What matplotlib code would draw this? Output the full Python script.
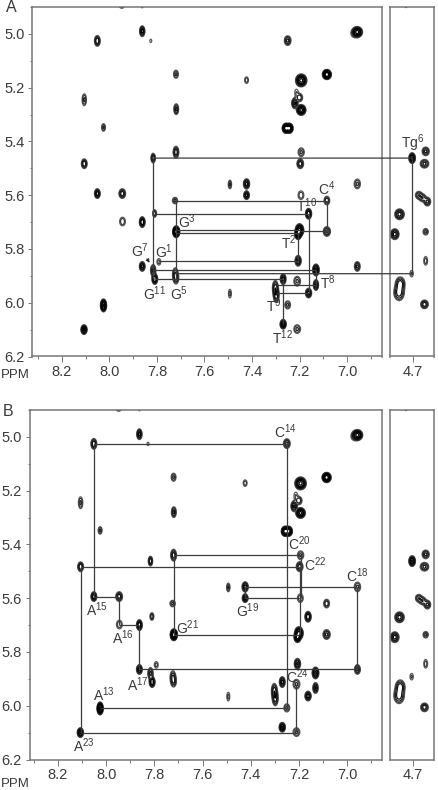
import numpy as np
import matplotlib
matplotlib.use('Agg')
import matplotlib.pyplot as plt
from matplotlib.patches import ConnectionPatch

plt.rcParams['font.family'] = ['Liberation Sans', 'DejaVu Sans']
plt.rcParams['mathtext.fontset'] = 'custom'
plt.rcParams['mathtext.rm'] = 'Liberation Sans'
plt.rcParams['mathtext.default'] = 'regular'

# cross peaks shared by both spectra: x ppm, y ppm, half width, half height, intensity
peak_x = [7.948, 7.862, 8.051, 7.862, 7.826, 7.25, 6.957, 6.97, 7.72, 7.423, 7.193, 7.085,
          8.106, 7.719, 7.213, 7.2, 7.22, 7.193, 8.025, 7.257, 7.243, 7.72, 7.816, 7.193,
          8.106, 7.197, 7.493, 7.423, 6.957, 8.051, 7.946, 7.423, 7.194, 7.085, 7.724,
          7.81, 7.162, 7.945, 7.862, 7.719, 7.2, 7.206, 7.085, 7.792, 7.206, 7.862,
          6.957, 7.816, 7.131, 7.723, 7.809, 7.72, 7.269, 7.21, 7.131, 7.302, 7.298,
          7.162, 7.493, 8.025, 7.25, 8.107, 7.269, 7.21]
peak_y = [4.896, 4.898, 5.026, 4.99, 5.026, 5.025, 4.993, 4.999, 5.15, 5.172, 5.173, 5.151,
          5.245, 5.28, 5.218, 5.237, 5.258, 5.283, 5.348, 5.351, 5.351, 5.44, 5.462, 5.44,
          5.483, 5.483, 5.56, 5.558, 5.558, 5.594, 5.594, 5.6, 5.6, 5.62, 5.62,
          5.668, 5.669, 5.698, 5.70, 5.736, 5.73, 5.745, 5.735, 5.848, 5.844, 5.865,
          5.865, 5.88, 5.878, 5.892, 5.912, 5.91, 5.912, 5.92, 5.934, 5.945, 5.972,
          5.964, 5.966, 6.01, 6.008, 6.10, 6.08, 6.098]
peak_w = [.012, .004, .012, .011, .004, .014, .022, .012, .010, .008, .024, .019,
          .009, .010, .007, .013, .013, .020, .008, .016, .016, .012, .009, .013,
          .012, .014, .007, .013, .013, .012, .014, .012, .012, .012, .011,
          .008, .013, .012, .012, .015, .018, .014, .015, .008, .013, .012,
          .012, .011, .014, .011, .012, .011, .012, .014, .011, .012, .012,
          .013, .006, .013, .012, .013, .013, .014]
peak_h = [.008, .005, .020, .020, .006, .018, .020, .012, .015, .012, .024, .019,
          .022, .020, .012, .015, .020, .020, .014, .019, .019, .022, .018, .016,
          .018, .018, .016, .019, .018, .018, .018, .016, .016, .016, .012,
          .014, .020, .016, .020, .022, .024, .020, .018, .012, .020, .018,
          .018, .022, .022, .022, .020, .020, .020, .018, .020, .028, .028,
          .018, .016, .024, .015, .018, .018, .016]
peak_amp = [5, 1.6, 7, 9, 1.6, 5, 25, 1.6, 3, 2.4, 25, 60,
            3, 5, 1.6, 4, 8, 25, 3, 60, 60, 6, 7, 3,
            7, 6, 3, 9, 3, 10, 6, 9, 2.5, 4, 3,
            4, 12, 2.5, 12, 60, 25, 25, 5, 2, 8, 9,
            5, 5, 14, 4, 12, 4, 9, 3, 8, 6, 6,
            9, 2, 40, 3, 14, 14, 3]

# peaks of the 4.7 ppm strip
strip_x = [4.73, 4.704, 4.647, 4.652, 4.676, 4.66, 4.64, 4.757, 4.777, 4.647, 4.647, 4.706, 4.759, 4.754, 4.652]
strip_y = [4.896, 5.462, 5.437, 5.483, 5.60, 5.61, 5.624, 5.671, 5.745, 5.736, 5.844, 5.892, 5.962, 5.93, 6.006]
strip_w = [.006, .014, .015, .018, .014, .014, .014, .020, .018, .011, .008, .007, .022, .020, .016]
strip_h = [.006, .020, .016, .016, .014, .014, .016, .020, .020, .012, .016, .012, .030, .026, .016]
strip_amp = [3, 14, 5, 5, 4, 4, 5, 9, 9, 3, 2.2, 1.8, 6, 6, 6]

xticks_main = [8.2, 8.0, 7.8, 7.6, 7.4, 7.2, 7.0]
xminor_main = [8.3, 8.1, 7.9, 7.7, 7.5, 7.3, 7.1, 6.9]
yticks_main = [5.0, 5.2, 5.4, 5.6, 5.8, 6.0, 6.2]
yminor_main = [4.9, 5.1, 5.3, 5.5, 5.7, 5.9, 6.1]

# walks of panel A: (x0, y0, x1, y1)
segments_a = [(7.816, 5.462, 7.816, 5.91), (7.72, 5.62, 7.085, 5.62), (7.085, 5.62, 7.085, 5.735),
              (7.72, 5.62, 7.72, 5.91), (7.81, 5.669, 7.162, 5.669), (7.162, 5.669, 7.162, 5.964),
              (7.72, 5.73, 7.2, 5.73), (7.72, 5.74, 7.2, 5.74), (7.2, 5.735, 7.085, 5.735),
              (7.206, 5.74, 7.206, 5.844), (7.792, 5.846, 7.206, 5.846), (7.816, 5.878, 7.131, 5.878),
              (7.131, 5.878, 7.131, 5.934), (7.809, 5.912, 7.269, 5.912), (7.269, 5.912, 7.269, 6.08),
              (7.30, 5.934, 7.131, 5.934), (7.30, 5.964, 7.162, 5.964)]
# these two run across the gap into the strip
bridges_a = [(7.816, 5.462, 4.704, 5.462), (7.723, 5.892, 4.706, 5.892)]
strip_segments_a = [(4.704, 5.462, 4.704, 5.892)]

segments_b = [(8.051, 5.025, 7.25, 5.025), (8.051, 5.025, 8.051, 5.594), (7.25, 5.025, 7.25, 6.008),
              (7.72, 5.44, 7.193, 5.44), (7.72, 5.44, 7.72, 5.736), (8.106, 5.483, 7.197, 5.483),
              (8.106, 5.483, 8.106, 6.10), (7.197, 5.483, 7.197, 5.736), (7.19, 5.44, 7.19, 5.6),
              (7.423, 5.558, 6.957, 5.558), (6.957, 5.558, 6.957, 5.865), (7.423, 5.558, 7.423, 5.6),
              (7.423, 5.6, 7.194, 5.6), (8.051, 5.594, 7.946, 5.594), (7.946, 5.594, 7.946, 5.698),
              (7.946, 5.698, 7.862, 5.698), (7.862, 5.70, 7.862, 5.865), (7.862, 5.865, 6.957, 5.865),
              (7.72, 5.736, 7.2, 5.736), (8.025, 6.008, 7.25, 6.008), (8.106, 6.10, 7.21, 6.10),
              (7.21, 5.92, 7.21, 6.098)]

labels_a = [('C', '4', 7.086, 5.576), ('T', '10', 7.17, 5.64), ('G', '3', 7.675, 5.70), ('T', '2', 7.247, 5.775),
            ('G', '7', 7.872, 5.805), ('G', '1', 7.77, 5.81), ('G', '11', 7.81, 5.965), ('G', '5', 7.708, 5.965),
            ('T', '8', 7.08, 5.927), ('T', '9', 7.308, 6.01), ('T', '12', 7.272, 6.13)]
labels_b = [('C', '14', 7.257, 4.98), ('C', '20', 7.2, 5.397), ('C', '22', 7.132, 5.476), ('C', '18', 6.958, 5.518),
            ('G', '19', 7.412, 5.645), ('A', '15', 8.037, 5.642), ('A', '16', 7.93, 5.747), ('G', '21', 7.66, 5.708),
            ('A', '17', 7.867, 5.92), ('C', '24', 7.208, 5.892), ('A', '13', 8.01, 5.96), ('A', '23', 8.093, 6.15)]

W, H = 438, 790
FRAME = '#777777'
LINE = '#3c3c3c'
TEXT = '#3a3a3a'
LEVELS = [1, 1.6, 2.6, 4.2, 7, 12, 20, 35]
RING_COLORS = ['#5a5a5a', '#3a3a3a', '#222222', '#111111', '#000000', '#000000', '#000000', '#000000']


def px_axes(fig, left, right, top, bottom):
    return fig.add_axes([left / W, 1 - bottom / H, (right - left) / W, (bottom - top) / H])


def draw_peaks(ax, xs, ys, ws, hs, amps):
    xlim, ylim = ax.get_xlim(), ax.get_ylim()
    gx = np.linspace(xlim[1], xlim[0], 1100)
    gy = np.linspace(ylim[1], ylim[0], 1100)
    X, Y = np.meshgrid(gx, gy)
    Z = np.zeros_like(X)
    for x, y, w, h, a in zip(xs, ys, ws, hs, amps):
        # sigma chosen so the lowest contour has the half width
        k = np.sqrt(2 * np.log(a))
        Z += a * np.exp(-((X - x) / (w / k)) ** 2 / 2 - ((Y - y) / (h / k)) ** 2 / 2)
    ax.contour(X, Y, Z, levels=LEVELS, colors=RING_COLORS, linewidths=0.9)


def style_axes(ax, xticks, xminor, ypad=None):
    for s in ax.spines.values():
        s.set_color(FRAME)
        s.set_linewidth(1.1)
    ax.set_xticks(xticks)
    ax.set_xticklabels([f'{t:.1f}' for t in xticks], fontsize=10.5, color=TEXT)
    ax.set_xticks(xminor, minor=True)
    ax.tick_params(axis='x', which='major', length=4, width=0.7, color=FRAME, pad=2)
    ax.tick_params(axis='x', which='minor', length=2, width=0.7, color=FRAME)
    if ypad is not None:
        ax.set_yticks(yticks_main)
        ax.set_yticklabels([f'{t:.1f}' for t in yticks_main], fontsize=10.5, color=TEXT)
        ax.set_yticks(yminor_main, minor=True)
        ax.tick_params(axis='y', which='major', length=3, width=0.7, color=FRAME, pad=ypad)
        ax.tick_params(axis='y', which='minor', length=1.5, width=0.7, color=FRAME)
    else:
        ax.set_yticks([])


def panel(fig, letter, top, bottom, left, xlim_main, letter_x, letter_y, ppm_y, ypad):
    ax = px_axes(fig, left, 382, top, bottom)
    ax.set_xlim(*xlim_main)
    ax.set_ylim(6.2, 4.9)
    strip = px_axes(fig, 390, 434, top, bottom)
    strip.set_xlim(4.797, 4.612)
    strip.set_ylim(6.2, 4.9)
    draw_peaks(ax, peak_x, peak_y, peak_w, peak_h, peak_amp)
    draw_peaks(strip, strip_x, strip_y, strip_w, strip_h, strip_amp)
    style_axes(ax, xticks_main, xminor_main, ypad=ypad)
    style_axes(strip, [4.7], [])
    fig.text(letter_x / W, 1 - letter_y / H, letter, fontsize=11.5, color=TEXT, ha='center', va='center')
    fig.text(15 / W, 1 - ppm_y / H, 'PPM', fontsize=9.5, color=TEXT, ha='center', va='center')
    return ax, strip


def draw_segments(ax, segs):
    for x0, y0, x1, y1 in segs:
        ax.plot([x0, x1], [y0, y1], color=LINE, lw=0.9, solid_capstyle='butt', zorder=3)


def draw_labels(ax, labels):
    for base, sup, x, y in labels:
        ax.text(x, y, f'{base}$^{{{sup}}}$', fontsize=10, color=TEXT, ha='center', va='center', zorder=4)


fig = plt.figure(figsize=(W / 100, H / 100), dpi=100)

ax_a, strip_a = panel(fig, 'A', 7, 356.5, 31.5, (8.328, 6.853), 11, 7, 375, 2)
draw_segments(ax_a, segments_a)
draw_segments(strip_a, strip_segments_a)
for x0, y0, x1, y1 in bridges_a:
    fig.add_artist(ConnectionPatch((x0, y0), (x1, y1), 'data', 'data', axesA=ax_a, axesB=strip_a,
                                   color=LINE, lw=0.9, zorder=3))
draw_labels(ax_a, labels_a)
strip_a.text(4.70, 5.406, 'Tg$^{6}$', fontsize=10, color=TEXT, ha='center', va='center', clip_on=False)
ax_a.annotate('', xy=(7.825, 5.86), xytext=(7.848, 5.828),
              arrowprops=dict(arrowstyle='-|>', color='#222222', lw=0.7, mutation_scale=5))

ax_b, strip_b = panel(fig, 'B', 410, 759.5, 30, (8.316, 6.855), 8, 411, 784, 3)
draw_segments(ax_b, segments_b)
draw_labels(ax_b, labels_b)

fig.savefig('out.png', dpi=100)
